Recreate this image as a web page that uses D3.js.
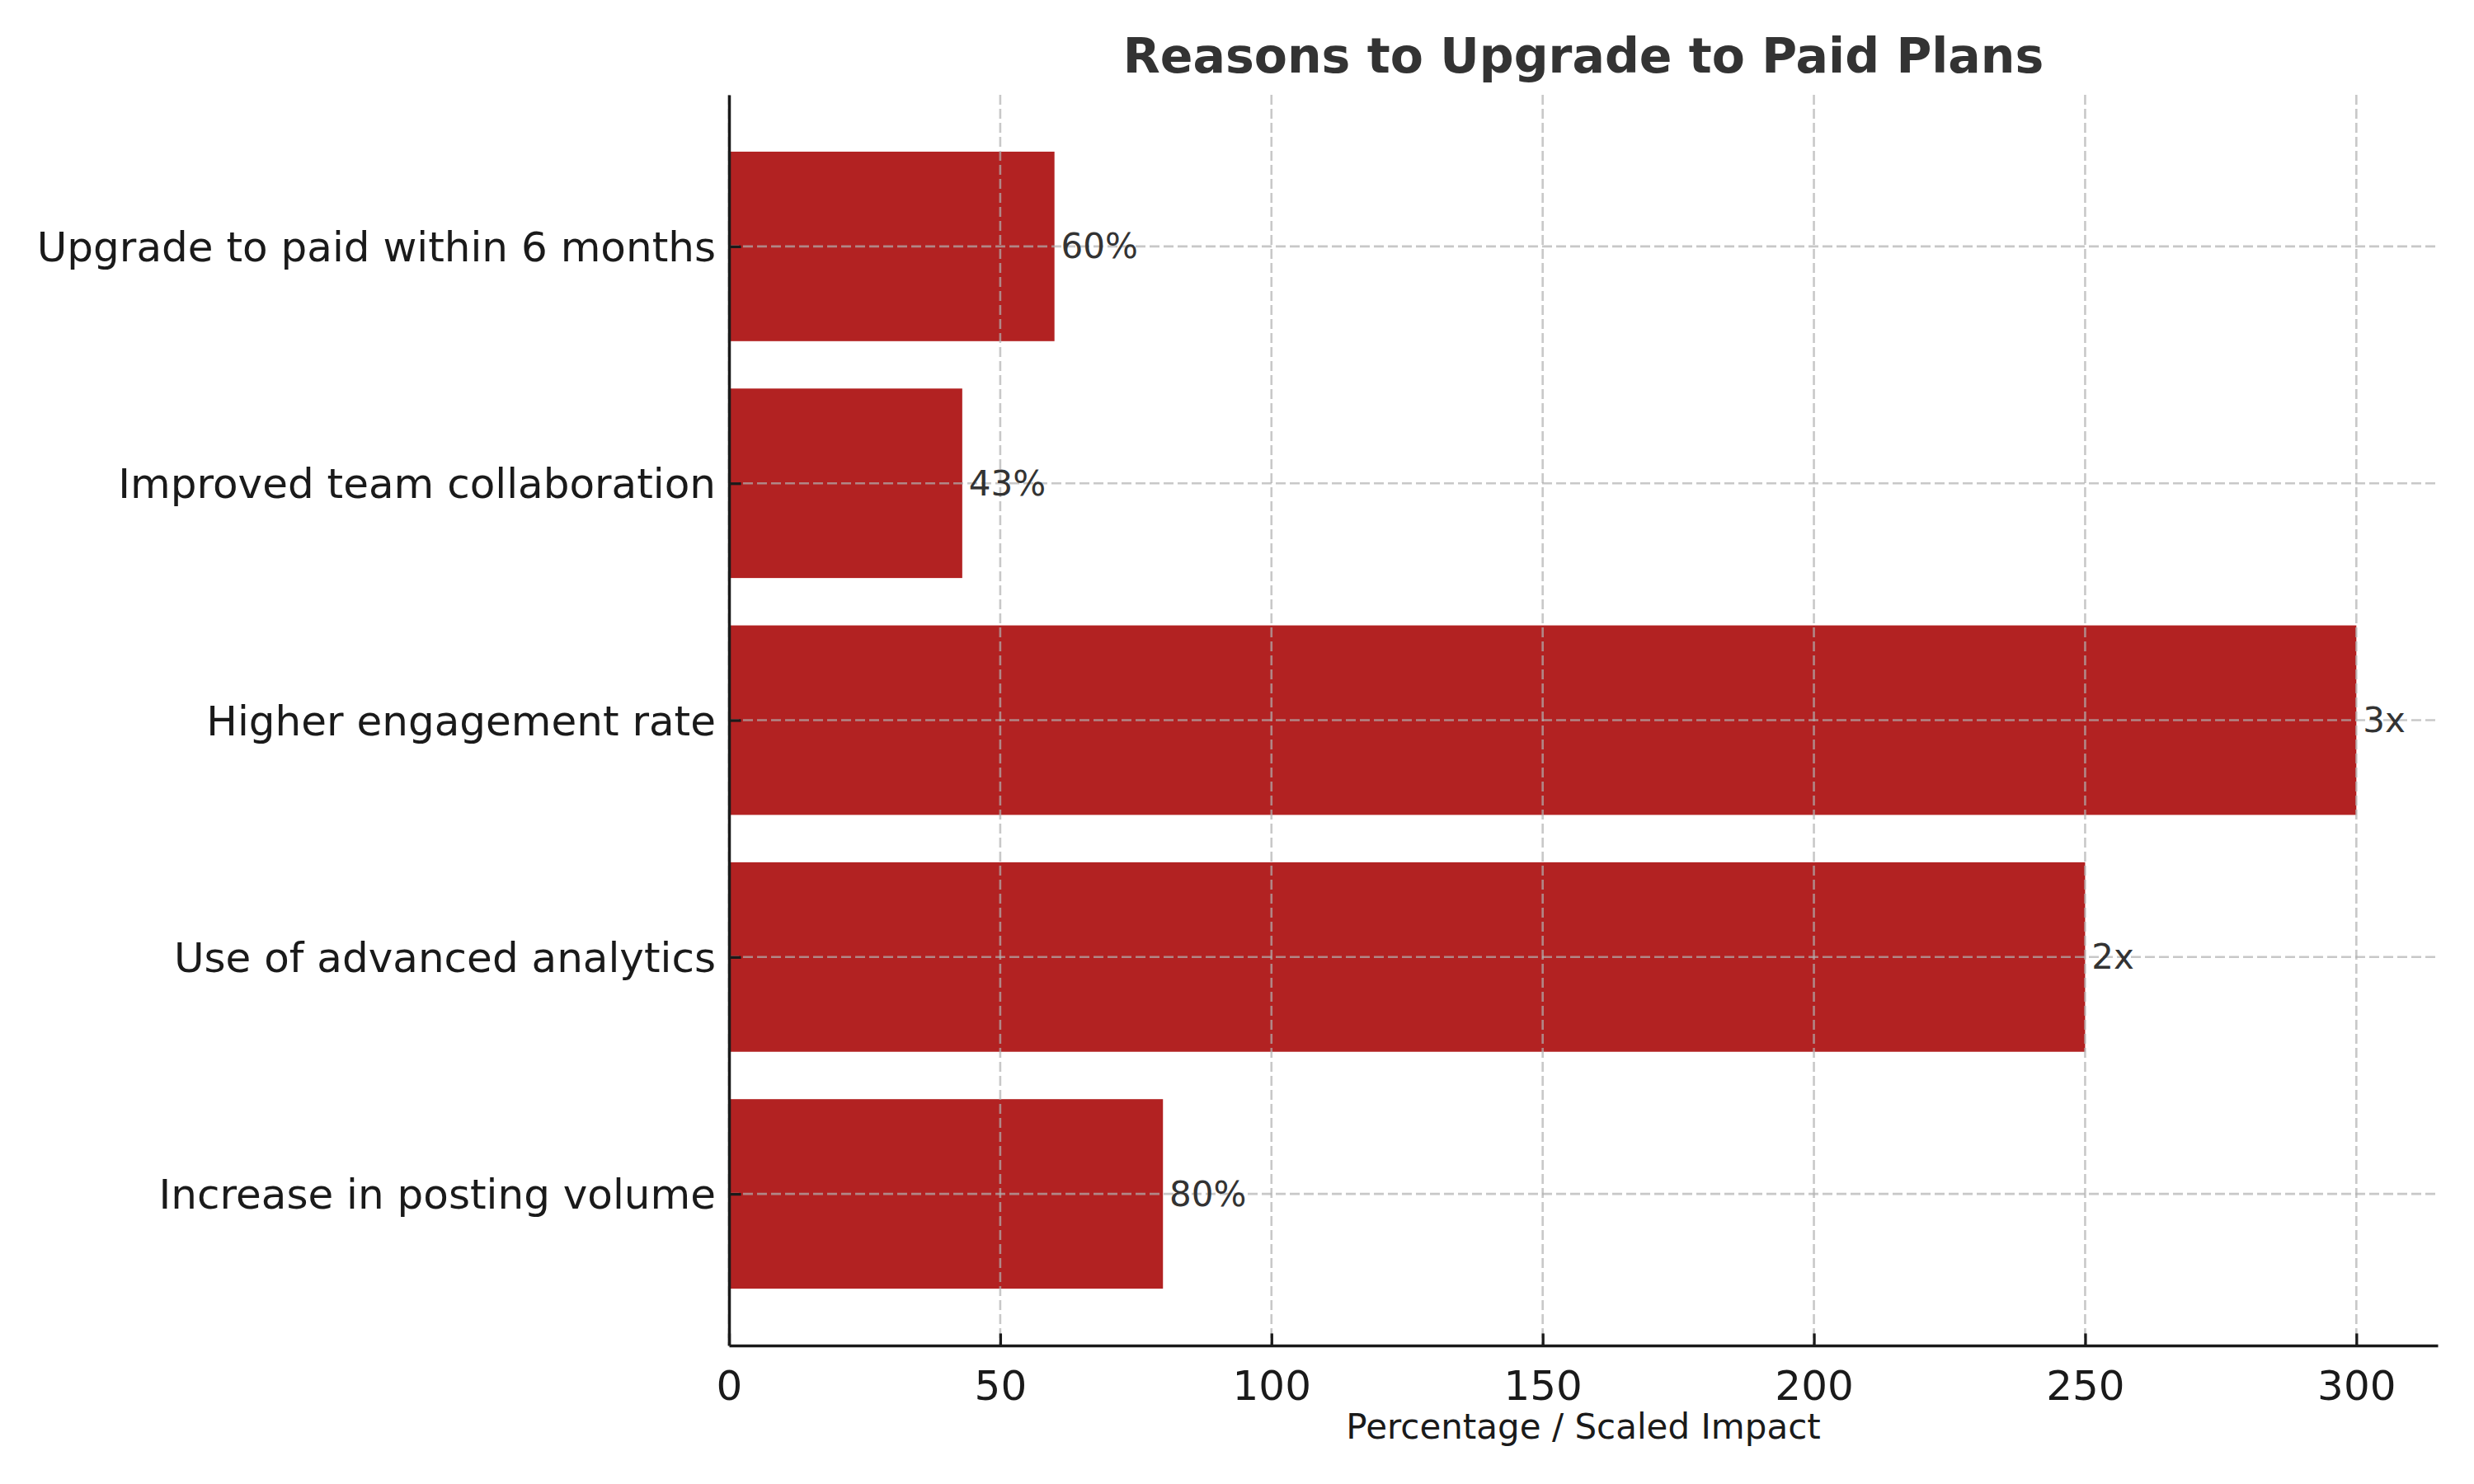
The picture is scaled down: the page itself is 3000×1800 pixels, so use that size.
<!DOCTYPE html>
<html>
<head>
<meta charset="utf-8">
<script src="https://cdn.jsdelivr.net/npm/d3@7"></script>
<style>
  body { margin: 0; background: #fff; }
  text { font-family: "DejaVu Sans", sans-serif; }
</style>
</head>
<body>
<svg id="chart" width="3000" height="1800"></svg>
<script>
"use strict";

// bottom to top, same order as the plotted rows
var categories = [
  "Increase in posting volume",
  "Use of advanced analytics",
  "Higher engagement rate",
  "Improved team collaboration",
  "Upgrade to paid within 6 months"
];
var values = [80, 250, 300, 43, 60];
var valueLabels = ["80%", "2x", "3x", "43%", "60%"];
var xTicks = [0, 50, 100, 150, 200, 250, 300];

var svg = d3.select("#chart"),
    margin = {top: 115, right: 44, bottom: 168, left: 884},
    width = +svg.attr("width") - margin.left - margin.right,
    height = +svg.attr("height") - margin.top - margin.bottom,
    g = svg.append("g").attr("transform", "translate(" + margin.left + "," + margin.top + ")");

svg.append("rect").attr("width", 3000).attr("height", 1800).attr("fill", "#fff").lower();

var x = d3.scaleLinear().domain([0, 315]).range([0, width]);
var y = d3.scaleLinear().domain([-0.64, categories.length - 1 + 0.64]).range([height, 0]);
var barHalf = 0.4;

// bars
g.selectAll("rect.bar")
    .data(values)
  .enter().append("rect")
    .attr("class", "bar")
    .attr("x", x(0))
    .attr("y", function(d, i) { return y(i + barHalf); })
    .attr("width", function(d) { return x(d) - x(0); })
    .attr("height", function(d, i) { return y(i - barHalf) - y(i + barHalf); })
    .attr("fill", "#b22222");

// grid drawn over the bars
var grid = g.append("g").attr("class", "grid");
grid.selectAll("line.vx")
    .data(xTicks)
  .enter().append("line")
    .attr("x1", function(d) { return x(d); })
    .attr("x2", function(d) { return x(d); })
    .attr("y1", 0)
    .attr("y2", height);
grid.selectAll("line.hy")
    .data(categories)
  .enter().append("line")
    .attr("x1", 0)
    .attr("x2", width)
    .attr("y1", function(d, i) { return y(i); })
    .attr("y2", function(d, i) { return y(i); });
grid.selectAll("line")
    .attr("stroke", "#b0b0b0")
    .attr("stroke-opacity", 0.7)
    .attr("stroke-width", 2.6)
    .attr("stroke-dasharray", "12,5");

// value labels
g.selectAll("text.val")
    .data(values)
  .enter().append("text")
    .attr("class", "val")
    .attr("x", function(d) { return x(d + 1.2); })
    .attr("y", function(d, i) { return y(i); })
    .attr("dominant-baseline", "central")
    .attr("font-size", 42)
    .attr("fill", "#333")
    .text(function(d, i) { return valueLabels[i]; });

// x axis (ticks inward)
var xAxis = d3.axisBottom(x)
    .tickValues(xTicks)
    .tickSize(-14.6)
    .tickPadding(30)
    .tickSizeOuter(0);

var gx = g.append("g")
    .attr("transform", "translate(0," + height + ")")
    .call(xAxis);
gx.selectAll("text").attr("font-size", 50).attr("fill", "#1a1a1a")
    .attr("font-family", "DejaVu Sans").attr("dy", "0.71em");
gx.selectAll(".tick line").attr("stroke", "#1a1a1a").attr("stroke-width", 3.3);
gx.select(".domain").attr("stroke", "#1a1a1a").attr("stroke-width", 3.5);

// y axis (ticks inward)
var yAxis = d3.axisLeft(y)
    .tickValues(d3.range(categories.length))
    .tickFormat(function(i) { return categories[i]; })
    .tickSize(-14.6)
    .tickPadding(16)
    .tickSizeOuter(0);

var gy = g.append("g").call(yAxis);
gy.selectAll("text").attr("font-size", 50).attr("fill", "#1a1a1a")
    .attr("font-family", "DejaVu Sans").attr("dy", "0.35em");
gy.selectAll(".tick line").attr("stroke", "#1a1a1a").attr("stroke-width", 3.3);
gy.select(".domain").attr("stroke", "#1a1a1a").attr("stroke-width", 3.5);

// title
svg.append("text")
    .attr("x", margin.left + width / 2)
    .attr("y", 88)
    .attr("text-anchor", "middle")
    .attr("font-size", 58.5)
    .attr("font-weight", "bold")
    .attr("fill", "#333")
    .text("Reasons to Upgrade to Paid Plans");

// x label
svg.append("text")
    .attr("x", margin.left + width / 2)
    .attr("y", 1745)
    .attr("text-anchor", "middle")
    .attr("font-size", 42)
    .attr("fill", "#1a1a1a")
    .text("Percentage / Scaled Impact");
</script>
</body>
</html>
